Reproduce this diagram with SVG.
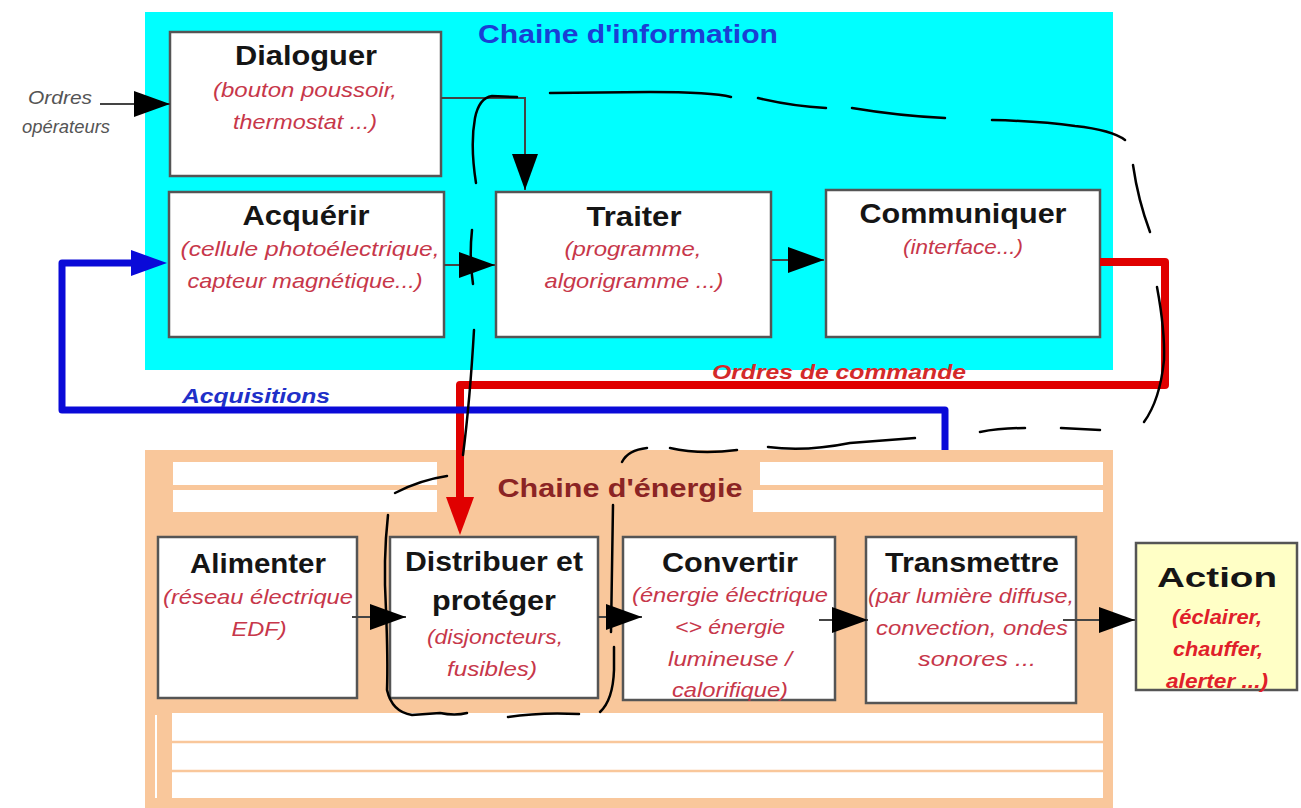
<svg xmlns="http://www.w3.org/2000/svg" width="1301" height="808" viewBox="0 0 1301 808">
<defs>
<style>
.box{fill:#fff;stroke:#555;stroke-width:2.5}
.t{font-family:"Liberation Sans",Arial,sans-serif;font-weight:bold;font-size:28px;fill:#151515;text-anchor:middle}
.s{font-family:"Liberation Sans",Arial,sans-serif;font-style:italic;font-size:21px;fill:#c7374a;text-anchor:middle}
.a{font-family:"Liberation Sans",Arial,sans-serif;font-style:italic;font-weight:bold;font-size:21px;fill:#e0202a;text-anchor:middle}
.lbl{font-family:"Liberation Sans",Arial,sans-serif;font-weight:bold;text-anchor:middle}
.blk{fill:none;stroke:#444;stroke-width:2}
.hand{fill:none;stroke:#000;stroke-width:2.5;stroke-linecap:round;stroke-linejoin:round}
.peach{fill:#f9c79b}
</style>
<marker id="ab" markerUnits="userSpaceOnUse" markerWidth="36" markerHeight="26" viewBox="0 0 36 26" refX="36" refY="13" orient="auto"><path d="M0,0 L36,13 L0,26 z" fill="#000"/></marker>
<marker id="ar" markerUnits="userSpaceOnUse" markerWidth="38" markerHeight="28" viewBox="0 0 38 28" refX="0" refY="14" orient="auto"><path d="M0,0 L38,14 L0,28 z" fill="#e00000"/></marker>
<marker id="abl" markerUnits="userSpaceOnUse" markerWidth="36" markerHeight="26" viewBox="0 0 36 26" refX="0" refY="13" orient="auto"><path d="M0,0 L36,13 L0,26 z" fill="#0a0ad8"/></marker>
</defs>
<rect width="1301" height="808" fill="#fff"/>

<g id="chaine-information">
<rect x="145" y="12" width="968" height="358" fill="#00ffff"/>
<text class="lbl" x="628" y="43" font-size="26" fill="#1a3fd4" textLength="300" lengthAdjust="spacingAndGlyphs">Chaine d'information</text>
</g>

<g id="chaine-energie">
<rect class="peach" x="145" y="450" width="968" height="358"/>
<rect x="173" y="462" width="264" height="23" fill="#fff"/>
<rect x="173" y="490" width="264" height="22" fill="#fff"/>
<rect x="760" y="462" width="343" height="23" fill="#fff"/>
<rect x="753" y="490" width="350" height="22" fill="#fff"/>
<rect x="172" y="713" width="931" height="85" fill="#fff"/>
<line x1="172" y1="742" x2="1103" y2="742" stroke="#f9c79b" stroke-width="2.5"/>
<line x1="172" y1="771" x2="1103" y2="771" stroke="#f9c79b" stroke-width="2.5"/>
<line x1="156" y1="715" x2="156" y2="798" stroke="#fff" stroke-width="2"/>
<text class="lbl" x="620" y="497" font-size="25" fill="#8b2424" textLength="245" lengthAdjust="spacingAndGlyphs">Chaine d'énergie</text>
</g>

<g id="ordres-operateurs">
<text font-family="Liberation Sans,Arial,sans-serif" font-style="italic" font-size="18" fill="#555" text-anchor="middle" x="60" y="104" textLength="64" lengthAdjust="spacingAndGlyphs">Ordres</text>
<text font-family="Liberation Sans,Arial,sans-serif" font-style="italic" font-size="18" fill="#555" text-anchor="middle" x="66" y="133" textLength="88" lengthAdjust="spacingAndGlyphs">opérateurs</text>
</g>

<g id="dialoguer">
<rect class="box" x="170" y="32" width="271" height="144"/>
<text class="t" x="306" y="65" textLength="142" lengthAdjust="spacingAndGlyphs">Dialoguer</text>
<text class="s" x="305" y="97" textLength="184" lengthAdjust="spacingAndGlyphs">(bouton poussoir,</text>
<text class="s" x="305" y="129" textLength="144" lengthAdjust="spacingAndGlyphs">thermostat ...)</text>
</g>

<g id="acquerir">
<rect class="box" x="169" y="192" width="275" height="145"/>
<text class="t" x="306" y="225" textLength="127" lengthAdjust="spacingAndGlyphs">Acquérir</text>
<text class="s" x="310" y="256" textLength="259" lengthAdjust="spacingAndGlyphs">(cellule photoélectrique,</text>
<text class="s" x="305" y="288" textLength="235" lengthAdjust="spacingAndGlyphs">capteur magnétique...)</text>
</g>

<g id="traiter">
<rect class="box" x="496" y="192" width="275" height="145"/>
<text class="t" x="634" y="226" textLength="95" lengthAdjust="spacingAndGlyphs">Traiter</text>
<text class="s" x="633" y="256" textLength="137" lengthAdjust="spacingAndGlyphs">(programme,</text>
<text class="s" x="634" y="288" textLength="179" lengthAdjust="spacingAndGlyphs">algorigramme ...)</text>
</g>

<g id="communiquer">
<rect class="box" x="826" y="190" width="274" height="147"/>
<text class="t" x="963" y="223" textLength="207" lengthAdjust="spacingAndGlyphs">Communiquer</text>
<text class="s" x="963" y="254" textLength="120" lengthAdjust="spacingAndGlyphs">(interface...)</text>
</g>

<g id="alimenter">
<rect class="box" x="158" y="537" width="199" height="161"/>
<text class="t" x="258" y="573" textLength="136" lengthAdjust="spacingAndGlyphs">Alimenter</text>
<text class="s" x="258" y="604" textLength="190" lengthAdjust="spacingAndGlyphs">(réseau électrique</text>
<text class="s" x="259" y="636" textLength="55" lengthAdjust="spacingAndGlyphs">EDF)</text>
</g>

<g id="distribuer">
<rect class="box" x="390" y="537" width="208" height="161"/>
<text class="t" x="494" y="571" textLength="178" lengthAdjust="spacingAndGlyphs">Distribuer et</text>
<text class="t" x="494" y="610" textLength="124" lengthAdjust="spacingAndGlyphs">protéger</text>
<text class="s" x="495" y="644" textLength="136" lengthAdjust="spacingAndGlyphs">(disjoncteurs,</text>
<text class="s" x="492" y="676" textLength="90" lengthAdjust="spacingAndGlyphs">fusibles)</text>
</g>

<g id="convertir">
<rect class="box" x="623" y="537" width="212" height="163"/>
<text class="t" x="730" y="572" textLength="136" lengthAdjust="spacingAndGlyphs">Convertir</text>
<text class="s" x="730" y="602" textLength="196" lengthAdjust="spacingAndGlyphs">(énergie électrique</text>
<text class="s" x="730" y="634" textLength="110" lengthAdjust="spacingAndGlyphs">&lt;&gt; énergie</text>
<text class="s" x="730" y="666" textLength="124" lengthAdjust="spacingAndGlyphs">lumineuse /</text>
<text class="s" x="730" y="697" textLength="116" lengthAdjust="spacingAndGlyphs">calorifique)</text>
</g>

<g id="transmettre">
<rect class="box" x="866" y="537" width="210" height="166"/>
<text class="t" x="972" y="572" textLength="174" lengthAdjust="spacingAndGlyphs">Transmettre</text>
<text class="s" x="971" y="603" textLength="206" lengthAdjust="spacingAndGlyphs">(par lumière diffuse,</text>
<text class="s" x="972" y="635" textLength="192" lengthAdjust="spacingAndGlyphs">convection, ondes</text>
<text class="s" x="977" y="666" textLength="118" lengthAdjust="spacingAndGlyphs">sonores ...</text>
</g>

<g id="action">
<rect x="1136" y="543" width="161" height="147" fill="#ffffc6" stroke="#555" stroke-width="2.5"/>
<text class="t" x="1217" y="587" font-size="39" textLength="120" lengthAdjust="spacingAndGlyphs">Action</text>
<text class="a" x="1217" y="624" textLength="90" lengthAdjust="spacingAndGlyphs">(éclairer,</text>
<text class="a" x="1218" y="656" textLength="90" lengthAdjust="spacingAndGlyphs">chauffer,</text>
<text class="a" x="1217" y="688" textLength="102" lengthAdjust="spacingAndGlyphs">alerter ...)</text>
</g>

<g id="connecteurs">
<line class="blk" x1="100" y1="104" x2="170" y2="104" marker-end="url(#ab)"/>
<polyline class="blk" points="441,98 525,98 525,190" marker-end="url(#ab)"/>
<line class="blk" x1="444" y1="265" x2="495" y2="265" marker-end="url(#ab)"/>
<line class="blk" x1="771" y1="260" x2="824" y2="260" marker-end="url(#ab)"/>
<line class="blk" x1="352" y1="617" x2="406" y2="617" marker-end="url(#ab)"/>
<line class="blk" x1="598" y1="617" x2="642" y2="617" marker-end="url(#ab)"/>
<line class="blk" x1="819" y1="620" x2="868" y2="620" marker-end="url(#ab)"/>
<line class="blk" x1="1063" y1="620" x2="1135" y2="620" marker-end="url(#ab)"/>
<polyline points="1100,262 1165,262 1165,385 460,385 460,497" fill="none" stroke="#e00000" stroke-width="8" stroke-linejoin="round" marker-end="url(#ar)"/>
<polyline points="945,450 945,410 62,410 62,263 131,263" fill="none" stroke="#0a0ad8" stroke-width="7" stroke-linejoin="round" marker-end="url(#abl)"/>
<text class="lbl" x="839" y="379" font-size="21" font-style="italic" fill="#d42a2a" textLength="254" lengthAdjust="spacingAndGlyphs">Ordres de commande</text>
<text class="lbl" x="256" y="403" font-size="21" font-style="italic" fill="#2030c8" textLength="148" lengthAdjust="spacingAndGlyphs">Acquisitions</text>
</g>

<g id="traces-main-levee">
<path class="hand" d="M517,97 L492,96 Q479,98 475,118 Q470,145 476,183"/>
<path class="hand" d="M472,230 Q469,258 473,284"/>
<path class="hand" d="M474,330 Q470,400 463,455"/>
<path class="hand" d="M550,93 L650,92 Q712,92 731,97"/>
<path class="hand" d="M758,98 Q792,106 826,108"/>
<path class="hand" d="M852,108 Q900,116 945,118"/>
<path class="hand" d="M992,120 Q1040,121 1075,126 Q1112,130 1125,140"/>
<path class="hand" d="M1133,165 Q1138,200 1150,232"/>
<path class="hand" d="M1157,287 Q1165,330 1164,360 Q1160,400 1144,422"/>
<path class="hand" d="M1061,428 L1100,430"/>
<path class="hand" d="M980,432 Q1000,428 1025,428"/>
<path class="hand" d="M768,447 Q805,452 850,443 L915,438"/>
<path class="hand" d="M670,448 Q700,455 737,450"/>
<path class="hand" d="M622,462 Q628,450 647,448"/>
<path class="hand" d="M395,493 Q420,480 447,476"/>
<path class="hand" d="M388,515 Q383,560 386,610 Q388,660 387,690 Q392,712 412,715 L440,713 Q455,716 467,713"/>
<path class="hand" d="M508,717 Q540,712 579,714"/>
<path class="hand" d="M600,712 Q613,700 614,670 L614,647"/>
<path class="hand" d="M611,632 L613,505"/>
</g>
</svg>
